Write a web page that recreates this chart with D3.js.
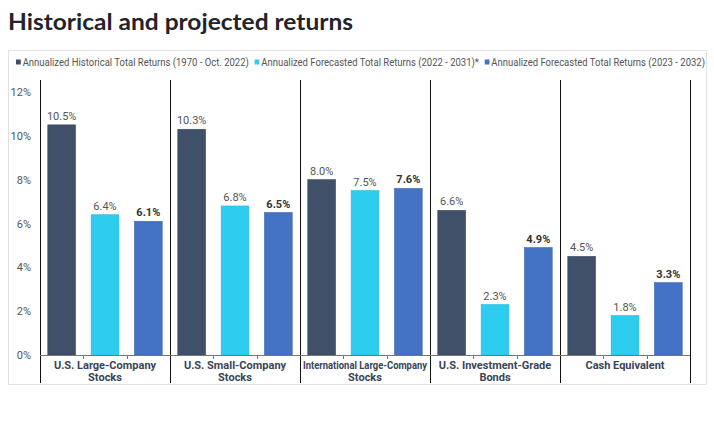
<!DOCTYPE html>
<html><head><meta charset="utf-8">
<script src="https://cdn.jsdelivr.net/npm/d3@7/dist/d3.min.js"></script>
<style>
body{margin:0;background:#fff;}
svg{display:block;font-family:Roboto, "Open Sans", sans-serif;}
</style></head>
<body><svg id="c" width="714" height="426"></svg>
<script>
const categories = [
  ["U.S. Large-Company", "Stocks"],
  ["U.S. Small-Company", "Stocks"],
  ["International Large-Company", "Stocks"],
  ["U.S. Investment-Grade", "Bonds"],
  ["Cash Equivalent"]
];
const seriesNames = [
  "Annualized Historical Total Returns (1970 - Oct. 2022)",
  "Annualized Forecasted Total Returns (2022 - 2031)*",
  "Annualized Forecasted Total Returns (2023 - 2032)"
];
const historical = [10.5, 10.3, 8.0, 6.6, 4.5];
const forecast2022 = [6.4, 6.8, 7.5, 2.3, 1.8];
const forecast2023 = [6.1, 6.5, 7.6, 4.9, 3.3];
const yTicks = [0, 2, 4, 6, 8, 10, 12];
const colors = ["#3f5068", "#2ecdf0", "#4472c4"];

const series = [historical, forecast2022, forecast2023];
const svg = d3.select("#c");

// title
const title = svg.append("text").attr("x", 8).attr("y", 30)
  .attr("font-family", "Lato, sans-serif").attr("font-weight", 700)
  .attr("font-size", 23).attr("fill", "#23232b")
  .text("Historical and projected returns");
const tl = title.node().getComputedTextLength();
if (Math.abs(tl - 345) > 4) title.attr("textLength", 345).attr("lengthAdjust", "spacingAndGlyphs");

// box
svg.append("rect").attr("x", 8.5).attr("y", 50.5).attr("width", 698).attr("height", 334)
  .attr("fill", "none").attr("stroke", "#e2e2e2");

// legend
let lx = 16;
const lg = svg.append("g");
seriesNames.forEach((n, i) => {
  lg.append("rect").attr("x", lx).attr("y", 59.5).attr("width", 5).attr("height", 5).attr("fill", colors[i]);
  const t = lg.append("text").attr("x", lx + 7).attr("y", 66).attr("font-size", 10)
    .attr("fill", "#555").text(n);
  lx += 7 + t.node().getComputedTextLength() + 6;
});
const lw = lx - 6 - 16;
if (Math.abs(lw - 689) > 3) {
  const s = 689 / lw;
  lg.attr("transform", `translate(${16 - 16 * s},0) scale(${s},1)`);
}

const x0 = d3.scaleBand().domain(d3.range(categories.length)).range([40, 690]).paddingInner(0).paddingOuter(0);
const x1 = d3.scaleBand().domain(d3.range(3)).range([0, x0.bandwidth()]).paddingInner(0.36).paddingOuter(0.18);
const y = d3.scaleLinear().domain([0, 12]).range([355, 92]);

// y axis labels
const yAxis = d3.axisLeft(y).tickValues(yTicks).tickFormat(d => d + "%").tickSize(0).tickPadding(0);
const ya = svg.append("g").attr("transform", "translate(31,0)").call(yAxis);
ya.select(".domain").remove();
ya.selectAll("text").attr("font-size", 11).attr("fill", "#555").attr("font-family", "Roboto, sans-serif");

// separators
const seps = d3.range(categories.length + 1).map(i => i < categories.length ? x0(i) : x0(categories.length - 1) + x0.bandwidth());
svg.append("g").selectAll("line").data(seps).join("line")
  .attr("x1", d => Math.round(d) + 0.5).attr("x2", d => Math.round(d) + 0.5)
  .attr("y1", 80).attr("y2", 383).attr("stroke", "#111").attr("stroke-width", 1);

// bars
const g = svg.append("g");
categories.forEach((c, ci) => {
  series.forEach((s, si) => {
    const bx = x0(ci) + x1(si);
    g.append("rect").attr("x", bx).attr("y", y(s[ci])).attr("width", x1.bandwidth())
      .attr("height", y(0) - y(s[ci])).attr("fill", colors[si])
      .attr("stroke", d3.color(colors[si]).darker(0.3)).attr("stroke-width", 0.6);
    g.append("text").attr("x", bx + x1.bandwidth() / 2).attr("y", y(s[ci]) - 5)
      .attr("text-anchor", "middle").attr("font-size", 11)
      .attr("font-weight", si === 2 ? 700 : 400)
      .attr("fill", si === 2 ? "#333" : "#555")
      .text(s[ci].toFixed(1) + "%");
  });
});

// x axis
const xa = svg.append("g");
xa.append("line").attr("x1", 40).attr("x2", 690).attr("y1", 355.5).attr("y2", 355.5).attr("stroke", "#777");
categories.forEach((c, ci) => {
  [1, 2].forEach(k => {
    const tx = Math.round(x0(ci) + k * x0.bandwidth() / 3) + 0.5;
    xa.append("line").attr("x1", tx).attr("x2", tx).attr("y1", 355).attr("y2", 359).attr("stroke", "#777");
  });
  const cx = x0(ci) + x0.bandwidth() / 2;
  c.forEach((line, li) => {
    const t = xa.append("text").attr("x", cx).attr("y", 369 + li * 12)
      .attr("text-anchor", "middle").attr("font-size", 11).attr("font-weight", 700).attr("fill", "#3a4456")
      .text(line);
    const w = t.node().getComputedTextLength();
    if (w > 124) t.attr("textLength", 124).attr("lengthAdjust", "spacingAndGlyphs");
  });
});
</script></body></html>
